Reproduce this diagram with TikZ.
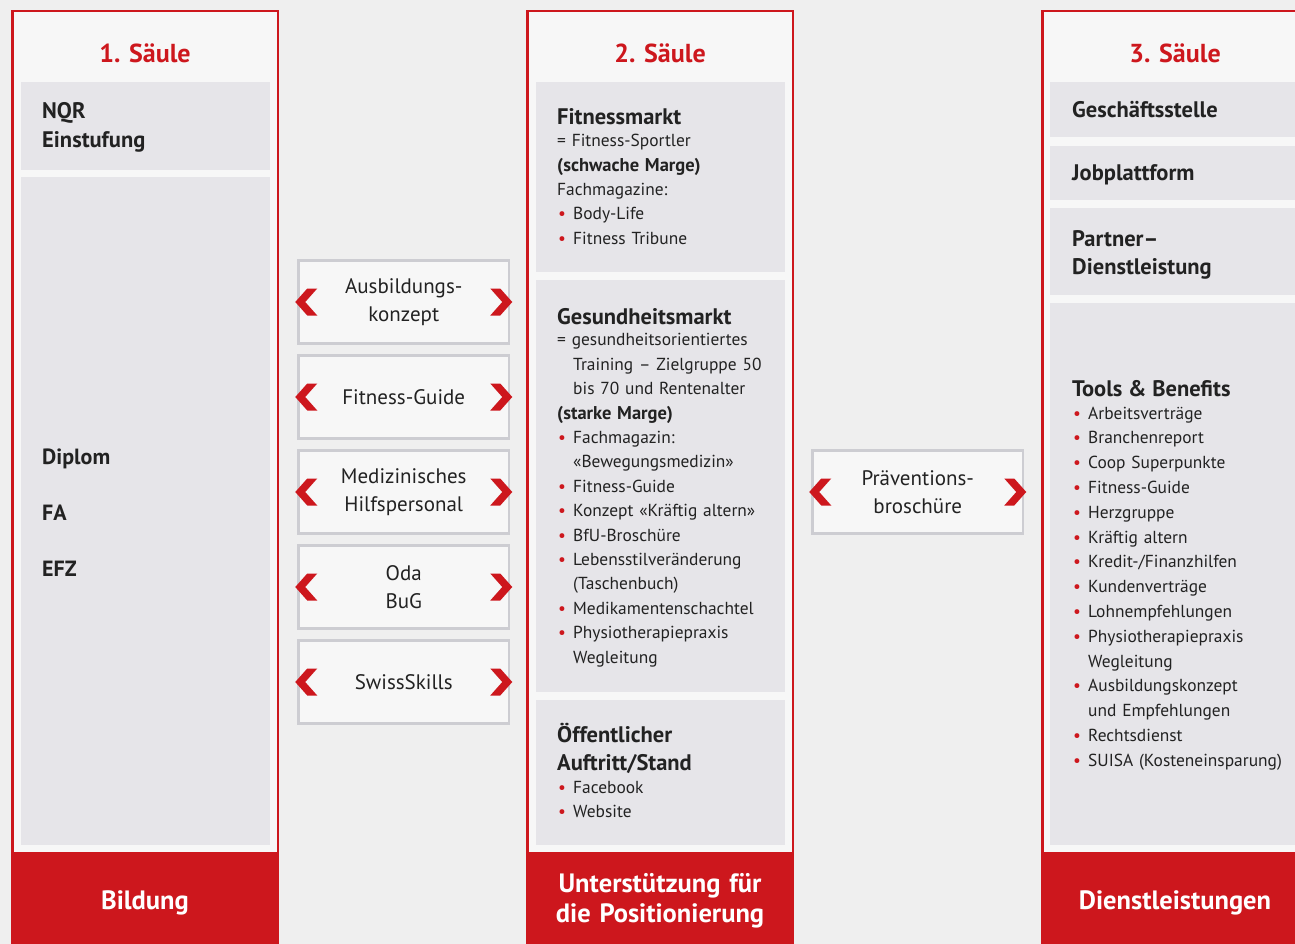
\documentclass[tikz,border=0pt]{standalone}
\usepackage{fontspec}
\setmainfont{PT Sans}
\usetikzlibrary{positioning}

\definecolor{sred}{HTML}{CD171D}
\definecolor{sgray}{HTML}{E6E5E9}
\definecolor{sline}{HTML}{CDCDD2}
\definecolor{sback}{HTML}{EFEFEF}
\definecolor{sinner}{HTML}{F7F7F7}
\definecolor{stext}{HTML}{222222}

\newcommand{\bul}{\makebox[16pt][l]{\hspace{1pt}\textcolor{sred}{\textbullet}}}
\newcommand{\ind}{\hspace*{16pt}}
\newcommand{\hfont}{\bfseries\fontsize{22.5}{24}\selectfont}
\newcommand{\mfont}{\bfseries\fontsize{18.5}{24}\selectfont}

\tikzset{
  pillar/.style={draw=sred, line width=2.5pt, fill=sinner},
  graybox/.style={fill=sgray, inner sep=0pt, outer sep=0pt, anchor=north west},
  linkbox/.style={draw=sline, line width=2.5pt, fill=sinner, anchor=north west,
    minimum width=210.5pt, minimum height=83pt, inner sep=0pt, align=center,
    text=stext, font=\fontsize{21}{28.5}\selectfont},
  footbox/.style={fill=sred, anchor=north west, minimum width=268pt,
    minimum height=91pt, inner sep=0pt},
  foottext/.style={anchor=base, text=white, align=center, text width=260pt,
    inner sep=0pt, font=\bfseries\fontsize{26.5}{30.5}\selectfont},
  saeule/.style={anchor=base, text=sred, inner sep=0pt,
    font=\bfseries\fontsize{26}{30}\selectfont},
  body/.style={anchor=base west, align=left, inner sep=0pt, text=stext,
    text width=235pt, font=\fontsize{17.4}{24.4}\selectfont},
  chev/.pic={
    \fill[sred] (0,0) -- (12,-13.5) -- (22,-13.5) -- (10,0) -- (22,13.5)
      -- (12,13.5) -- cycle;
  }
}

\begin{document}
\begin{tikzpicture}[x=1pt, y=-1pt]
  \useasboundingbox (0,0) rectangle (1295,944);
  \clip (0,0) rectangle (1295,944);
  \fill[sback] (0,0) rectangle (1295,944);

  % 1. Saeule
  \draw[pillar] (12.25,11.25) rectangle (277.75,853);
  \node[saeule] (s1title) at (145,63) {1. Säule};
  \node[graybox, minimum width=249pt, minimum height=88pt] (s1nqr) at (21,82) {};
  \node[graybox, minimum width=249pt, minimum height=668pt] (s1main) at (21,177) {};
  \node[body, font=\bfseries\fontsize{22.5}{29}\selectfont] (s1nqrtext) at (42,119)
    {NQR\\ Einstufung};
  \node[body, font=\bfseries\fontsize{22}{56}\selectfont] (s1maintext) at (42,464)
    {Diplom\\ FA\\ EFZ};
  \node[footbox] (s1foot) at (11,853) {};
  \node[foottext] (s1foottext) at (145,909) {Bildung};

  % Verbindungen zwischen Saeule 1 und 2
  \node[linkbox] (lnk1) at (297.25,259.25) {Ausbildungs-\\ konzept};
  \node[linkbox] (lnk2) at (297.25,354.25) {Fitness-Guide};
  \node[linkbox] (lnk3) at (297.25,449.25) {Medizinisches\\ Hilfspersonal};
  \node[linkbox] (lnk4) at (297.25,544.25) {Oda\\ BuG};
  \node[linkbox] (lnk5) at (297.25,639.25) {SwissSkills};
  \foreach \n in {lnk1,lnk2,lnk3,lnk4,lnk5} {
    \pic at ([xshift=-2pt]\n.west) {chev};
    \pic[xscale=-1] at ([xshift=2pt]\n.east) {chev};
  }

  % 2. Saeule
  \draw[pillar] (527.25,11.25) rectangle (792.75,853);
  \node[saeule] (s2title) at (660,63) {2. Säule};
  \node[graybox, minimum width=249pt, minimum height=190pt] (s2fit) at (536,82) {};
  \node[graybox, minimum width=249pt, minimum height=412pt] (s2ges) at (536,280) {};
  \node[graybox, minimum width=249pt, minimum height=145pt] (s2auf) at (536,700) {};
  \node[body] (s2fittext) at (557,125)
    {{\hfont Fitnessmarkt}\\[-2.6pt]
     = Fitness-Sportler\\
     {\mfont (schwache Marge)}\\
     Fachmagazine:\\
     \bul Body-Life\\
     \bul Fitness Tribune};
  \node[body] (s2gestext) at (557,324)
    {{\hfont Gesundheitsmarkt}\\[-2.6pt]
     = gesundheitsorientiertes\\
     \ind Training – Zielgruppe 50\\
     \ind bis 70 und Rentenalter\\
     {\mfont (starke Marge)}\\
     \bul Fachmagazin:\\
     \ind «Bewegungsmedizin»\\
     \bul Fitness-Guide\\
     \bul Konzept «Kräftig altern»\\
     \bul BfU-Broschüre\\
     \bul Lebensstilveränderung\\
     \ind (Taschenbuch)\\
     \bul Medikamentenschachtel\\
     \bul Physiotherapiepraxis\\
     \ind Wegleitung};
  \node[body] (s2auftext) at (557,742)
    {{\hfont Öffentlicher}\\[3.6pt]
     {\hfont Auftritt/Stand}\\[-1.4pt]
     \bul Facebook\\
     \bul Website};
  \node[footbox] (s2foot) at (526,853) {};
  \node[foottext] (s2foottext) at (660,892) {Unterstützung für\\ die Positionierung};

  % Verbindung zwischen Saeule 2 und 3
  \node[linkbox] (praev) at (811.25,449.25) {Präventions-\\ broschüre};
  \pic at ([xshift=-2pt]praev.west) {chev};
  \pic[xscale=-1] at ([xshift=2pt]praev.east) {chev};

  % 3. Saeule
  \draw[pillar] (1042.25,11.25) rectangle (1330,853);
  \node[saeule] (s3title) at (1175,63) {3. Säule};
  \node[graybox, minimum width=260pt, minimum height=55pt] (s3ges) at (1050,82) {};
  \node[graybox, minimum width=260pt, minimum height=54pt] (s3job) at (1050,146) {};
  \node[graybox, minimum width=260pt, minimum height=87pt] (s3part) at (1050,208) {};
  \node[graybox, minimum width=260pt, minimum height=542pt] (s3tools) at (1050,303) {};
  \node[body, font=\hfont] (s3gestext) at (1072,118) {Geschäftsstelle};
  \node[body, font=\hfont] (s3jobtext) at (1072,181) {Jobplattform};
  \node[body, font=\bfseries\fontsize{22.5}{28}\selectfont] (s3parttext) at (1072,246)
    {Partner–\\ Dienstleistung};
  \node[body, font=\fontsize{17.4}{24.8}\selectfont] (s3toolstext) at (1072,396)
    {{\hfont Tools \& Benefits}\\[-1.8pt]
     \bul Arbeitsverträge\\
     \bul Branchenreport\\
     \bul Coop Superpunkte\\
     \bul Fitness-Guide\\
     \bul Herzgruppe\\
     \bul Kräftig altern\\
     \bul Kredit-/Finanzhilfen\\
     \bul Kundenverträge\\
     \bul Lohnempfehlungen\\
     \bul Physiotherapiepraxis\\
     \ind Wegleitung\\
     \bul Ausbildungskonzept\\
     \ind und Empfehlungen\\
     \bul Rechtsdienst\\
     \bul SUISA (Kosteneinsparung)};
  \node[footbox, minimum width=280pt] (s3foot) at (1041,853) {};
  \node[foottext] (s3foottext) at (1175,909) {Dienstleistungen};
\end{tikzpicture}
\end{document}
